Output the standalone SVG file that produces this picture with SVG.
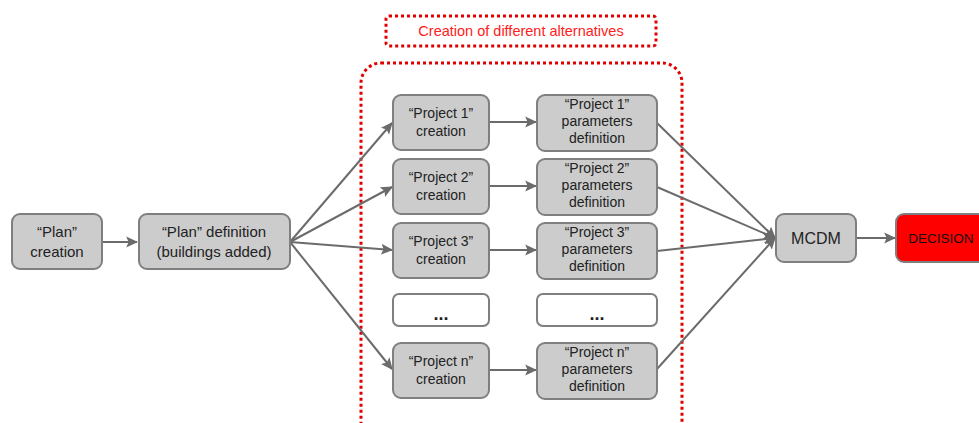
<svg xmlns="http://www.w3.org/2000/svg" width="979" height="423" viewBox="0 0 979 423">
<defs>
<marker id="ah" viewBox="0 0 10 10" refX="9" refY="5" markerWidth="6" markerHeight="6" orient="auto" markerUnits="strokeWidth">
<path d="M0,0.5 L10,5 L0,9.5 L2,5 z" fill="#6b6b6b"/>
</marker>
</defs>
<style>
.box{fill:#cccccc;stroke:#7f7f7f;stroke-width:2}
.wbox{fill:#ffffff;stroke:#7f7f7f;stroke-width:2}
.t{font-family:"Liberation Sans",Arial,sans-serif;font-size:14px;fill:#222;text-anchor:middle}
.tb{font-family:"Liberation Sans",Arial,sans-serif;font-size:15px;fill:#222;text-anchor:middle}
.c{stroke:#6b6b6b;stroke-width:2;fill:none;marker-end:url(#ah)}
.dot{fill:none;stroke:#e00000;stroke-width:3;stroke-dasharray:3 3}
</style>
<rect width="979" height="423" fill="#ffffff"/>
<g id="group-frame">
<rect class="dot" x="361" y="63" width="321" height="390" rx="20"/>
</g>
<g id="label-alternatives">
<rect class="dot" x="386" y="16" width="270" height="30" rx="3"/>
<text x="521" y="36" font-family="Liberation Sans,Arial,sans-serif" font-size="14.5" fill="#ff2020" text-anchor="middle">Creation of different alternatives</text>
</g>
<g id="connectors">
<line class="c" x1="102" y1="242" x2="137" y2="242"/>
<line class="c" x1="290" y1="242" x2="392" y2="123"/>
<line class="c" x1="290" y1="242" x2="392" y2="187"/>
<line class="c" x1="290" y1="242" x2="392" y2="250"/>
<line class="c" x1="290" y1="242" x2="392" y2="369"/>
<line class="c" x1="489" y1="122" x2="536" y2="122"/>
<line class="c" x1="489" y1="186" x2="536" y2="186"/>
<line class="c" x1="489" y1="250" x2="536" y2="250"/>
<line class="c" x1="489" y1="370" x2="536" y2="370"/>
<line class="c" x1="657" y1="123" x2="775" y2="238"/>
<line class="c" x1="657" y1="187" x2="775" y2="238"/>
<line class="c" x1="657" y1="251" x2="775" y2="238"/>
<line class="c" x1="657" y1="369" x2="775" y2="238"/>
<line class="c" x1="856" y1="238" x2="895" y2="238"/>
</g>
<g id="plan-creation">
<rect class="box" x="12" y="214" width="90" height="55" rx="8"/>
<text class="tb" x="57" y="237">“Plan”</text>
<text class="tb" x="57" y="257">creation</text>
</g>
<g id="plan-definition">
<rect class="box" x="139" y="214" width="151" height="55" rx="8"/>
<text class="tb" x="214" y="237">“Plan” definition</text>
<text class="tb" x="214" y="257">(buildings added)</text>
</g>
<g id="p1-creation">
<rect class="box" x="393" y="95" width="96" height="55" rx="8"/>
<text class="t" x="441" y="118">“Project 1”</text>
<text class="t" x="441" y="136">creation</text>
</g>
<g id="p1-params">
<rect class="box" x="537" y="95" width="120" height="56" rx="8"/>
<text class="t" x="597" y="109">“Project 1”</text>
<text class="t" x="597" y="126">parameters</text>
<text class="t" x="597" y="143">definition</text>
</g>
<g id="p2-creation">
<rect class="box" x="393" y="159" width="96" height="55" rx="8"/>
<text class="t" x="441" y="182">“Project 2”</text>
<text class="t" x="441" y="200">creation</text>
</g>
<g id="p2-params">
<rect class="box" x="537" y="159" width="120" height="56" rx="8"/>
<text class="t" x="597" y="173">“Project 2”</text>
<text class="t" x="597" y="190">parameters</text>
<text class="t" x="597" y="207">definition</text>
</g>
<g id="p3-creation">
<rect class="box" x="393" y="223" width="96" height="55" rx="8"/>
<text class="t" x="441" y="246">“Project 3”</text>
<text class="t" x="441" y="264">creation</text>
</g>
<g id="p3-params">
<rect class="box" x="537" y="223" width="120" height="56" rx="8"/>
<text class="t" x="597" y="237">“Project 3”</text>
<text class="t" x="597" y="254">parameters</text>
<text class="t" x="597" y="271">definition</text>
</g>
<g id="dots-creation">
<rect class="wbox" x="393" y="294" width="96" height="32" rx="6"/>
<text x="441" y="320" font-family="Liberation Sans,Arial,sans-serif" font-size="18" font-weight="bold" fill="#222" text-anchor="middle">...</text>
</g>
<g id="dots-params">
<rect class="wbox" x="537" y="294" width="120" height="32" rx="6"/>
<text x="597" y="320" font-family="Liberation Sans,Arial,sans-serif" font-size="18" font-weight="bold" fill="#222" text-anchor="middle">...</text>
</g>
<g id="pn-creation">
<rect class="box" x="393" y="343" width="96" height="55" rx="8"/>
<text class="t" x="441" y="366">“Project n”</text>
<text class="t" x="441" y="384">creation</text>
</g>
<g id="pn-params">
<rect class="box" x="537" y="343" width="120" height="56" rx="8"/>
<text class="t" x="597" y="357">“Project n”</text>
<text class="t" x="597" y="374">parameters</text>
<text class="t" x="597" y="391">definition</text>
</g>
<g id="mcdm">
<rect class="box" x="776" y="214" width="80" height="48" rx="8"/>
<text x="816" y="244" font-family="Liberation Sans,Arial,sans-serif" font-size="16" fill="#222" text-anchor="middle">MCDM</text>
</g>
<g id="decision">
<rect x="896" y="214" width="95" height="48" rx="8" fill="#ff0000" stroke="#7f7f7f" stroke-width="2"/>
<text x="941" y="243" font-family="Liberation Sans,Arial,sans-serif" font-size="13.5" fill="#111" text-anchor="middle">DECISION</text>
</g>
</svg>
